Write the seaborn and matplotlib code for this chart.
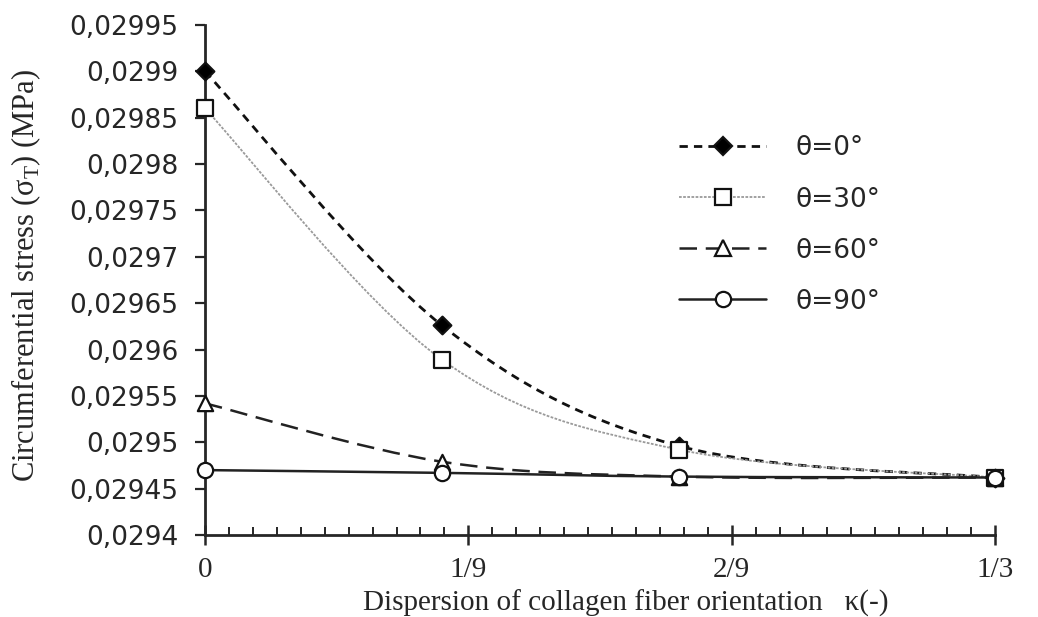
import numpy as np
import pandas as pd
import matplotlib
matplotlib.use("Agg")
import matplotlib.pyplot as plt
import seaborn as sns
from matplotlib.path import Path
from matplotlib.patches import PathPatch
from matplotlib.lines import Line2D
from matplotlib.ticker import FixedLocator, MultipleLocator, FuncFormatter

# ---------------- data ----------------
kappa = [0.0, 0.1, 0.2, 1 / 3]
stress_0 = [0.029900, 0.029626, 0.029496, 0.029462]
stress_30 = [0.029860, 0.029589, 0.029492, 0.029462]
stress_60 = [0.029542, 0.029479, 0.029463, 0.029462]
stress_90 = [0.029470, 0.029467, 0.029463, 0.029462]
labels = ["θ=0°", "θ=30°", "θ=60°", "θ=90°"]

xtick_pos = [0, 1 / 9, 2 / 9, 1 / 3]
xtick_lab = ["0", "1/9", "2/9", "1/3"]

df = pd.DataFrame({
    "kappa": kappa * 4,
    "stress": stress_0 + stress_30 + stress_60 + stress_90,
    "serie": [l for l in labels for _ in kappa],
})

# ---------------- style ----------------
sns.set_style("ticks")
plt.rcParams["font.family"] = ["DejaVu Sans"]
plt.rcParams["axes.linewidth"] = 2

styles = {
    "θ=0°": dict(marker="D", mfc="black", color="#111111", ls=(0, (3, 2.2)), lw=2.0, ms=9),
    "θ=30°": dict(marker="s", mfc="white", color="#9a9a9a", ls=(0, (1.5, 0.8)), lw=1.3, ms=12),
    "θ=60°": dict(marker="^", mfc="white", color="#222222", ls=(0, (7, 3.5)), lw=1.8, ms=11),
    "θ=90°": dict(marker="o", mfc="white", color="#222222", ls="-", lw=1.8, ms=11),
}


def smooth_path(xs, ys):
    # Excel-like smoothed connector (Catmull-Rom -> cubic Bezier)
    p = np.column_stack([xs, ys])
    n = len(p)
    verts = [p[0]]
    codes = [Path.MOVETO]
    for i in range(n - 1):
        p0 = p[max(i - 1, 0)]
        p1, p2 = p[i], p[i + 1]
        p3 = p[min(i + 2, n - 1)]
        c1 = p1 + (p2 - p0) / 6
        c2 = p2 - (p3 - p1) / 6
        verts += [c1, c2, p2]
        codes += [Path.CURVE4] * 3
    return Path(verts, codes)


fig = plt.figure(figsize=(10.38, 6.17), dpi=100)
ax = fig.add_axes([205 / 1038, 1 - 535 / 617, 790 / 1038, 510 / 617])

handles = []
for lab in labels:
    st = styles[lab]
    sub = df[df["serie"] == lab]
    patch = PathPatch(smooth_path(sub["kappa"].values, sub["stress"].values),
                      facecolor="none", edgecolor=st["color"],
                      lw=st["lw"], linestyle=st["ls"], zorder=2)
    ax.add_patch(patch)
    handles.append(Line2D([], [], color=st["color"], ls=st["ls"], lw=st["lw"],
                          marker=st["marker"], mfc=st["mfc"], mec="#111111",
                          ms=st["ms"], mew=1.6))

for lab in labels:
    st = styles[lab]
    sub = df[df["serie"] == lab]
    sns.scatterplot(data=sub, x="kappa", y="stress", marker=st["marker"],
                    s=st["ms"] ** 2, color=st["mfc"], edgecolor="#111111",
                    linewidth=1.6, ax=ax, zorder=3, clip_on=False, legend=False)

# ---------------- axes ----------------
ax.set_xlim(0, 1 / 3)
ax.set_ylim(0.0294, 0.02995)
ax.xaxis.set_major_locator(FixedLocator(xtick_pos))
ax.set_xticklabels(xtick_lab, fontsize=21, family="Liberation Serif")
ax.xaxis.set_minor_locator(FixedLocator([i / 99 for i in range(34) if i % 11]))
ax.yaxis.set_major_locator(MultipleLocator(0.00005))
ax.yaxis.set_major_formatter(FuncFormatter(lambda v, p: f"{v:.5f}".rstrip("0").replace(".", ",")))
ax.tick_params(axis="y", direction="out", length=7, width=1.6, labelsize=19, pad=12)
ax.tick_params(axis="x", which="major", direction="inout", length=14, width=1.8, pad=9)
ax.tick_params(axis="x", which="minor", direction="in", length=6, width=1.4)
sns.despine(ax=ax)

ax.set_xlabel("Dispersion of collagen fiber orientation   κ(-)",
              fontsize=21, family="Liberation Serif", va="baseline")
ax.xaxis.set_label_coords(0.532, -0.148)
ax.set_ylabel("Circumferential stress (σ$_{\\mathregular{T}}$) (MPa)",
              fontsize=22, family="Liberation Serif")
ax.yaxis.set_label_coords(-0.205, 0.51)

ax.legend(handles, labels, loc="upper left", bbox_to_anchor=(0.57, 0.83),
          frameon=False, fontsize=19, handlelength=3.3, handletextpad=1.1,
          labelspacing=0.95)

fig.savefig("out.png", dpi=100)
